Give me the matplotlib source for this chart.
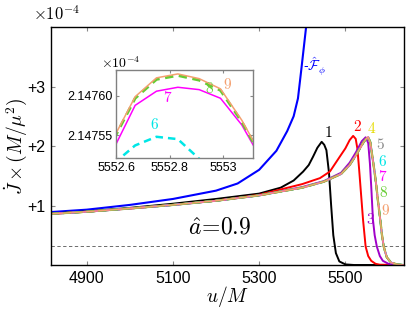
import numpy as np
import matplotlib
matplotlib.use("Agg")
import matplotlib.pyplot as plt

plt.rcParams['mathtext.fontset'] = 'cm'
plt.rcParams['font.family'] = ['Liberation Sans', 'DejaVu Sans']

# flux (units of 1e-4)
u_flux = [4817, 4900, 5000, 5100, 5200, 5250, 5300, 5340, 5365, 5380, 5390, 5398, 5405, 5412]
j_flux = [0.89, 0.93, 1.01, 1.11, 1.25, 1.37, 1.60, 1.92, 2.25, 2.50, 2.80, 3.30, 3.75, 4.20]

# curve 1
u_1 = [4817, 4900, 5000, 5100, 5200, 5300, 5350, 5380, 5402, 5415, 5425, 5435, 5445,
       5451, 5456, 5462, 5467, 5472, 5478, 5486, 5500, 5520, 5636]
j_1 = [0.865, 0.90, 0.96, 1.03, 1.11, 1.20, 1.30, 1.42, 1.57, 1.68, 1.82, 1.97, 2.07,
       2.02, 1.93, 1.55, 1.00, 0.50, 0.20, 0.06, 0.01, 0.0, 0.0]

# curve 2
u_2 = [4817, 4900, 5000, 5100, 5200, 5300, 5350, 5400, 5441, 5464, 5487, 5500, 5510,
       5518, 5524, 5528, 5532, 5535, 5541, 5547, 5553, 5560, 5570, 5580, 5636]
j_2 = [0.86, 0.895, 0.95, 1.01, 1.08, 1.18, 1.27, 1.36, 1.46, 1.57, 1.82, 1.96, 2.10,
       2.17, 2.12, 1.95, 1.60, 1.32, 0.76, 0.31, 0.15, 0.07, 0.02, 0.005, 0.0]

# curve 3
u_3 = [4817, 4900, 5000, 5100, 5200, 5300, 5400, 5450, 5490, 5510, 5525, 5538, 5547,
       5553, 5557, 5560, 5564, 5568, 5573, 5580, 5587, 5600, 5615, 5636]
j_3 = [0.86, 0.895, 0.95, 1.01, 1.08, 1.17, 1.31, 1.41, 1.55, 1.72, 1.90, 2.08, 2.146,
       2.05, 1.70, 1.32, 0.76, 0.50, 0.31, 0.15, 0.07, 0.02, 0.005, 0.0]

# curves 4-9 (indistinguishable at this scale)
u_4 = [4817, 4900, 5000, 5100, 5200, 5300, 5400, 5450, 5490, 5510, 5525, 5541, 5548,
       5553, 5558, 5563, 5568, 5572, 5576, 5581, 5585, 5589, 5596, 5606, 5620, 5636]
j_4 = [0.86, 0.895, 0.95, 1.01, 1.08, 1.17, 1.30, 1.40, 1.53, 1.68, 1.85, 2.05, 2.12,
       2.147, 2.06, 1.80, 1.55, 1.32, 1.05, 0.76, 0.50, 0.31, 0.13, 0.04, 0.01, 0.0]

horizon = 0.32

# inset zoom around the peak
u_in = [5552.59, 5552.67, 5552.75, 5552.83, 5552.91, 5552.99, 5553.07, 5553.15]
j_6 = [2.147514, 2.147537, 2.147548, 2.147545, 2.147520, 2.147490, 2.147450, 2.147400]
j_7 = [2.147533, 2.147588, 2.147606, 2.147611, 2.147608, 2.147597, 2.147563, 2.147515]
j_8 = [2.147545, 2.147597, 2.147621, 2.147626, 2.147620, 2.147607, 2.147567, 2.147518]
j_9 = [2.147547, 2.147599, 2.147623, 2.147628, 2.147622, 2.147609, 2.147569, 2.147520]

c_yellow = '#e6dc00'
c_gray = '#8c8c8c'
c_cyan = '#00e6e6'
c_mag = '#ff00ff'
c_green = '#66cc33'
c_orange = '#f4a070'
c_purple = '#a000c8'

fig = plt.figure(figsize=(4.07, 3.09), dpi=100)
ax = fig.add_axes([0.1253, 0.1424, 0.8673, 0.7702])

ax.axhline(horizon, color='#555555', lw=0.6, ls=(0, (4, 3)))
ax.plot(u_flux, j_flux, color='blue', lw=1.5)
ax.plot(u_1, j_1, color='black', lw=1.4)
ax.plot(u_2, j_2, color='red', lw=1.4)
ax.plot(u_3, j_3, color=c_purple, lw=1.4)
ax.plot(u_4, j_4, color=c_yellow, lw=1.4)
ax.plot(u_4, j_4, color=c_gray, lw=1.2)
ax.plot(u_4, j_4, color=c_cyan, lw=1.4, ls='--')
ax.plot(u_4, j_4, color=c_mag, lw=1.2)
ax.plot(u_4, j_4, color=c_green, lw=1.6, ls='--')
ax.plot(u_4, j_4, color=c_orange, lw=1.0)

ax.set_xlim(4817, 5636)
ax.set_ylim(0, 4)
ax.set_xticks([4900, 5100, 5300, 5500])
ax.set_yticks([1, 2, 3])
ax.set_yticklabels(['+1', '+2', '+3'])
ax.tick_params(direction='in', top=True, right=True, length=3, color='#888888',
               labelsize=11.5, pad=4)
for s in ax.spines.values():
    s.set_linewidth(1.0)

ax.set_xlabel(r'$u/M$', fontsize=14)
ax.xaxis.set_label_coords(0.5, -0.08)
ax.set_ylabel(r'$\dot{J}\times(M/\mu^2)$', fontsize=14)
ax.yaxis.set_label_coords(-0.062, 0.5)
fig.text(0.082, 0.955, r'$\times10^{-4}$', fontsize=12, va='center', ha='left')

ax.text(5460, 2.22, r'$1$', color='black', fontsize=11, ha='center', va='center')
ax.text(5528, 2.32, r'$2$', color='red', fontsize=11, ha='center', va='center')
ax.text(5562, 2.29, r'$4$', color=c_yellow, fontsize=11, ha='center', va='center')
ax.text(5581, 2.02, r'$5$', color=c_gray, fontsize=11, ha='center', va='center')
ax.text(5585, 1.74, r'$6$', color=c_cyan, fontsize=11, ha='center', va='center')
ax.text(5587, 1.48, r'$7$', color=c_mag, fontsize=11, ha='center', va='center')
ax.text(5589, 1.22, r'$8$', color=c_green, fontsize=11, ha='center', va='center')
ax.text(5592, 0.91, r'$9$', color=c_orange, fontsize=11, ha='center', va='center')
ax.text(5558, 0.76, r'$3$', color=c_purple, fontsize=11, ha='center', va='center')
ax.text(5401, 3.33, r'-$\hat{\mathcal{F}}_\phi$', color='blue', fontsize=10,
        ha='left', va='center')
ax.text(5209, 0.62, r'$\hat{a}\!=\!0.9$', fontsize=17, ha='center', va='center')

# inset
axi = fig.add_axes([0.2862, 0.4887, 0.3342, 0.2848])
axi.plot(u_in, j_6, color=c_cyan, lw=1.8, ls=(0, (3, 2)))
axi.plot(u_in, j_7, color=c_mag, lw=1.1)
axi.plot(u_in, j_8, color=c_green, lw=2.0, ls=(0, (3, 2)))
axi.plot(u_in, j_9, color=c_orange, lw=1.1)
axi.set_xlim(5552.6, 5553.11)
axi.set_ylim(2.147521, 2.147633)
axi.set_xticks([5552.6, 5552.8, 5553])
axi.set_xticklabels(['5552.6', '5552.8', '5553'])
axi.set_yticks([2.14755, 2.14760])
axi.set_yticklabels(['2.14755', '2.14760'])
axi.tick_params(direction='in', top=True, right=True, length=2.5, color='#888888',
                labelsize=9, pad=3)
for s in axi.spines.values():
    s.set_color('#808080')
    s.set_linewidth(1.0)
fig.text(0.249, 0.797, r'$\times10^{-4}$', fontsize=10, va='center', ha='left')
axi.text(5552.743, 2.147564, r'$6$', color=c_cyan, fontsize=11, ha='center', va='center')
axi.text(5552.793, 2.147598, r'$7$', color=c_mag, fontsize=11, ha='center', va='center')
axi.text(5552.947, 2.147609, r'$8$', color=c_green, fontsize=11, ha='center', va='center')
axi.text(5553.016, 2.147615, r'$9$', color=c_orange, fontsize=11, ha='center', va='center')

fig.savefig('out.png', dpi=100)
